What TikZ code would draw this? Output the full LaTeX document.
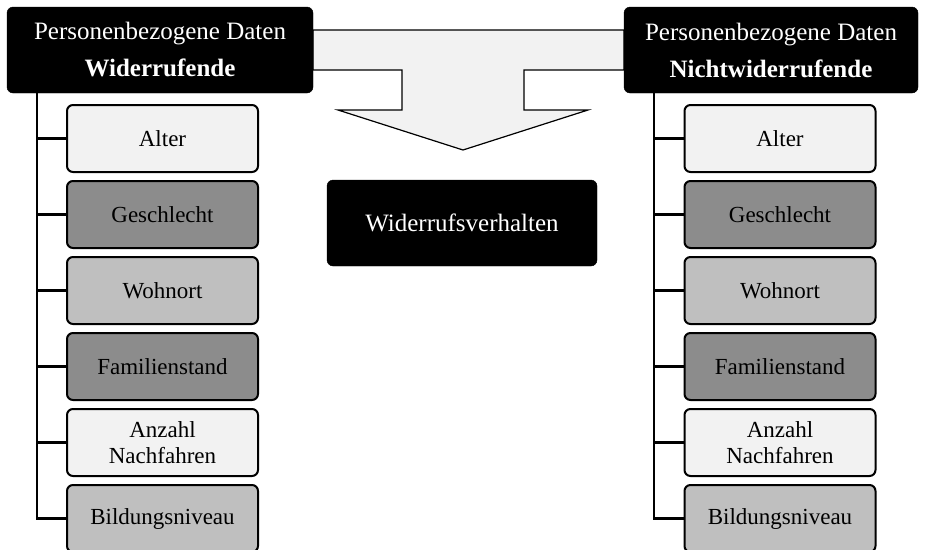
\documentclass[tikz,border=0pt]{standalone}
\usepackage{fontspec}
\setmainfont{Liberation Serif}
\begin{document}
\begin{tikzpicture}[x=1pt,y=-1pt,
  header/.style={draw=black,fill=black,text=white,rounded corners=6pt,
    minimum height=86pt,align=center,inner sep=0pt,
    font=\fontsize{25}{37}\selectfont},
  center/.style={draw=black,fill=black,text=white,rounded corners=6pt,
    minimum width=270pt,minimum height=86pt,inner sep=0pt,
    font=\fontsize{25}{30}\selectfont},
  item/.style={draw=black,line width=2pt,rounded corners=6pt,
    minimum width=191pt,minimum height=67pt,align=center,inner sep=0pt,
    font=\fontsize{23}{26}\selectfont},
  light/.style={item,fill=gray!10},
  mid/.style={item,fill=black!25},
  dark/.style={item,fill=black!45},
  branch/.style={line width=2.4pt},
  bigarrow/.style={draw=black,line width=1.2pt,fill=gray!10,line join=miter}]
\useasboundingbox (0,0) rectangle (925,549);

% broad arrow joining both headers and pointing down to the centre box
\draw[bigarrow] (313,30) -- (624,30) -- (624,70) -- (524,70) -- (524,110)
  -- (588,110) -- (463,150) -- (338,110) -- (402,110) -- (402,70)
  -- (313,70) -- cycle;

\node[header,minimum width=306pt] (lh) at (160,50)
  {Personenbezogene Daten\\\textbf{Widerrufende}};
\node[header,minimum width=294pt] (rh) at (771,50)
  {Personenbezogene Daten\\\textbf{Nichtwiderrufende}};
\node[center] (mid) at (462,223) {Widerrufsverhalten};

% left column
\node[light] (l1) at (162.5,138.5) {Alter};
\node[dark]  (l2) at (162.5,214.5) {Geschlecht};
\node[mid]   (l3) at (162.5,290.5) {Wohnort};
\node[dark]  (l4) at (162.5,366.5) {Familienstand};
\node[light] (l5) at (162.5,442.5) {Anzahl\\Nachfahren};
\node[mid]   (l6) at (162.5,518.5) {Bildungsniveau};

% right column
\node[light] (r1) at (780,138.5) {Alter};
\node[dark]  (r2) at (780,214.5) {Geschlecht};
\node[mid]   (r3) at (780,290.5) {Wohnort};
\node[dark]  (r4) at (780,366.5) {Familienstand};
\node[light] (r5) at (780,442.5) {Anzahl\\Nachfahren};
\node[mid]   (r6) at (780,518.5) {Bildungsniveau};

% tree lines
\coordinate (lt) at (37,93);
\coordinate (rt) at (654,93);
\draw[branch] (lt) |- (l6.west);
\draw[branch] (rt) |- (r6.west);
\foreach \i in {1,...,5}{
  \draw[branch] (lt |- l\i.west) -- (l\i.west);
  \draw[branch] (rt |- r\i.west) -- (r\i.west);
}
\end{tikzpicture}
\end{document}
